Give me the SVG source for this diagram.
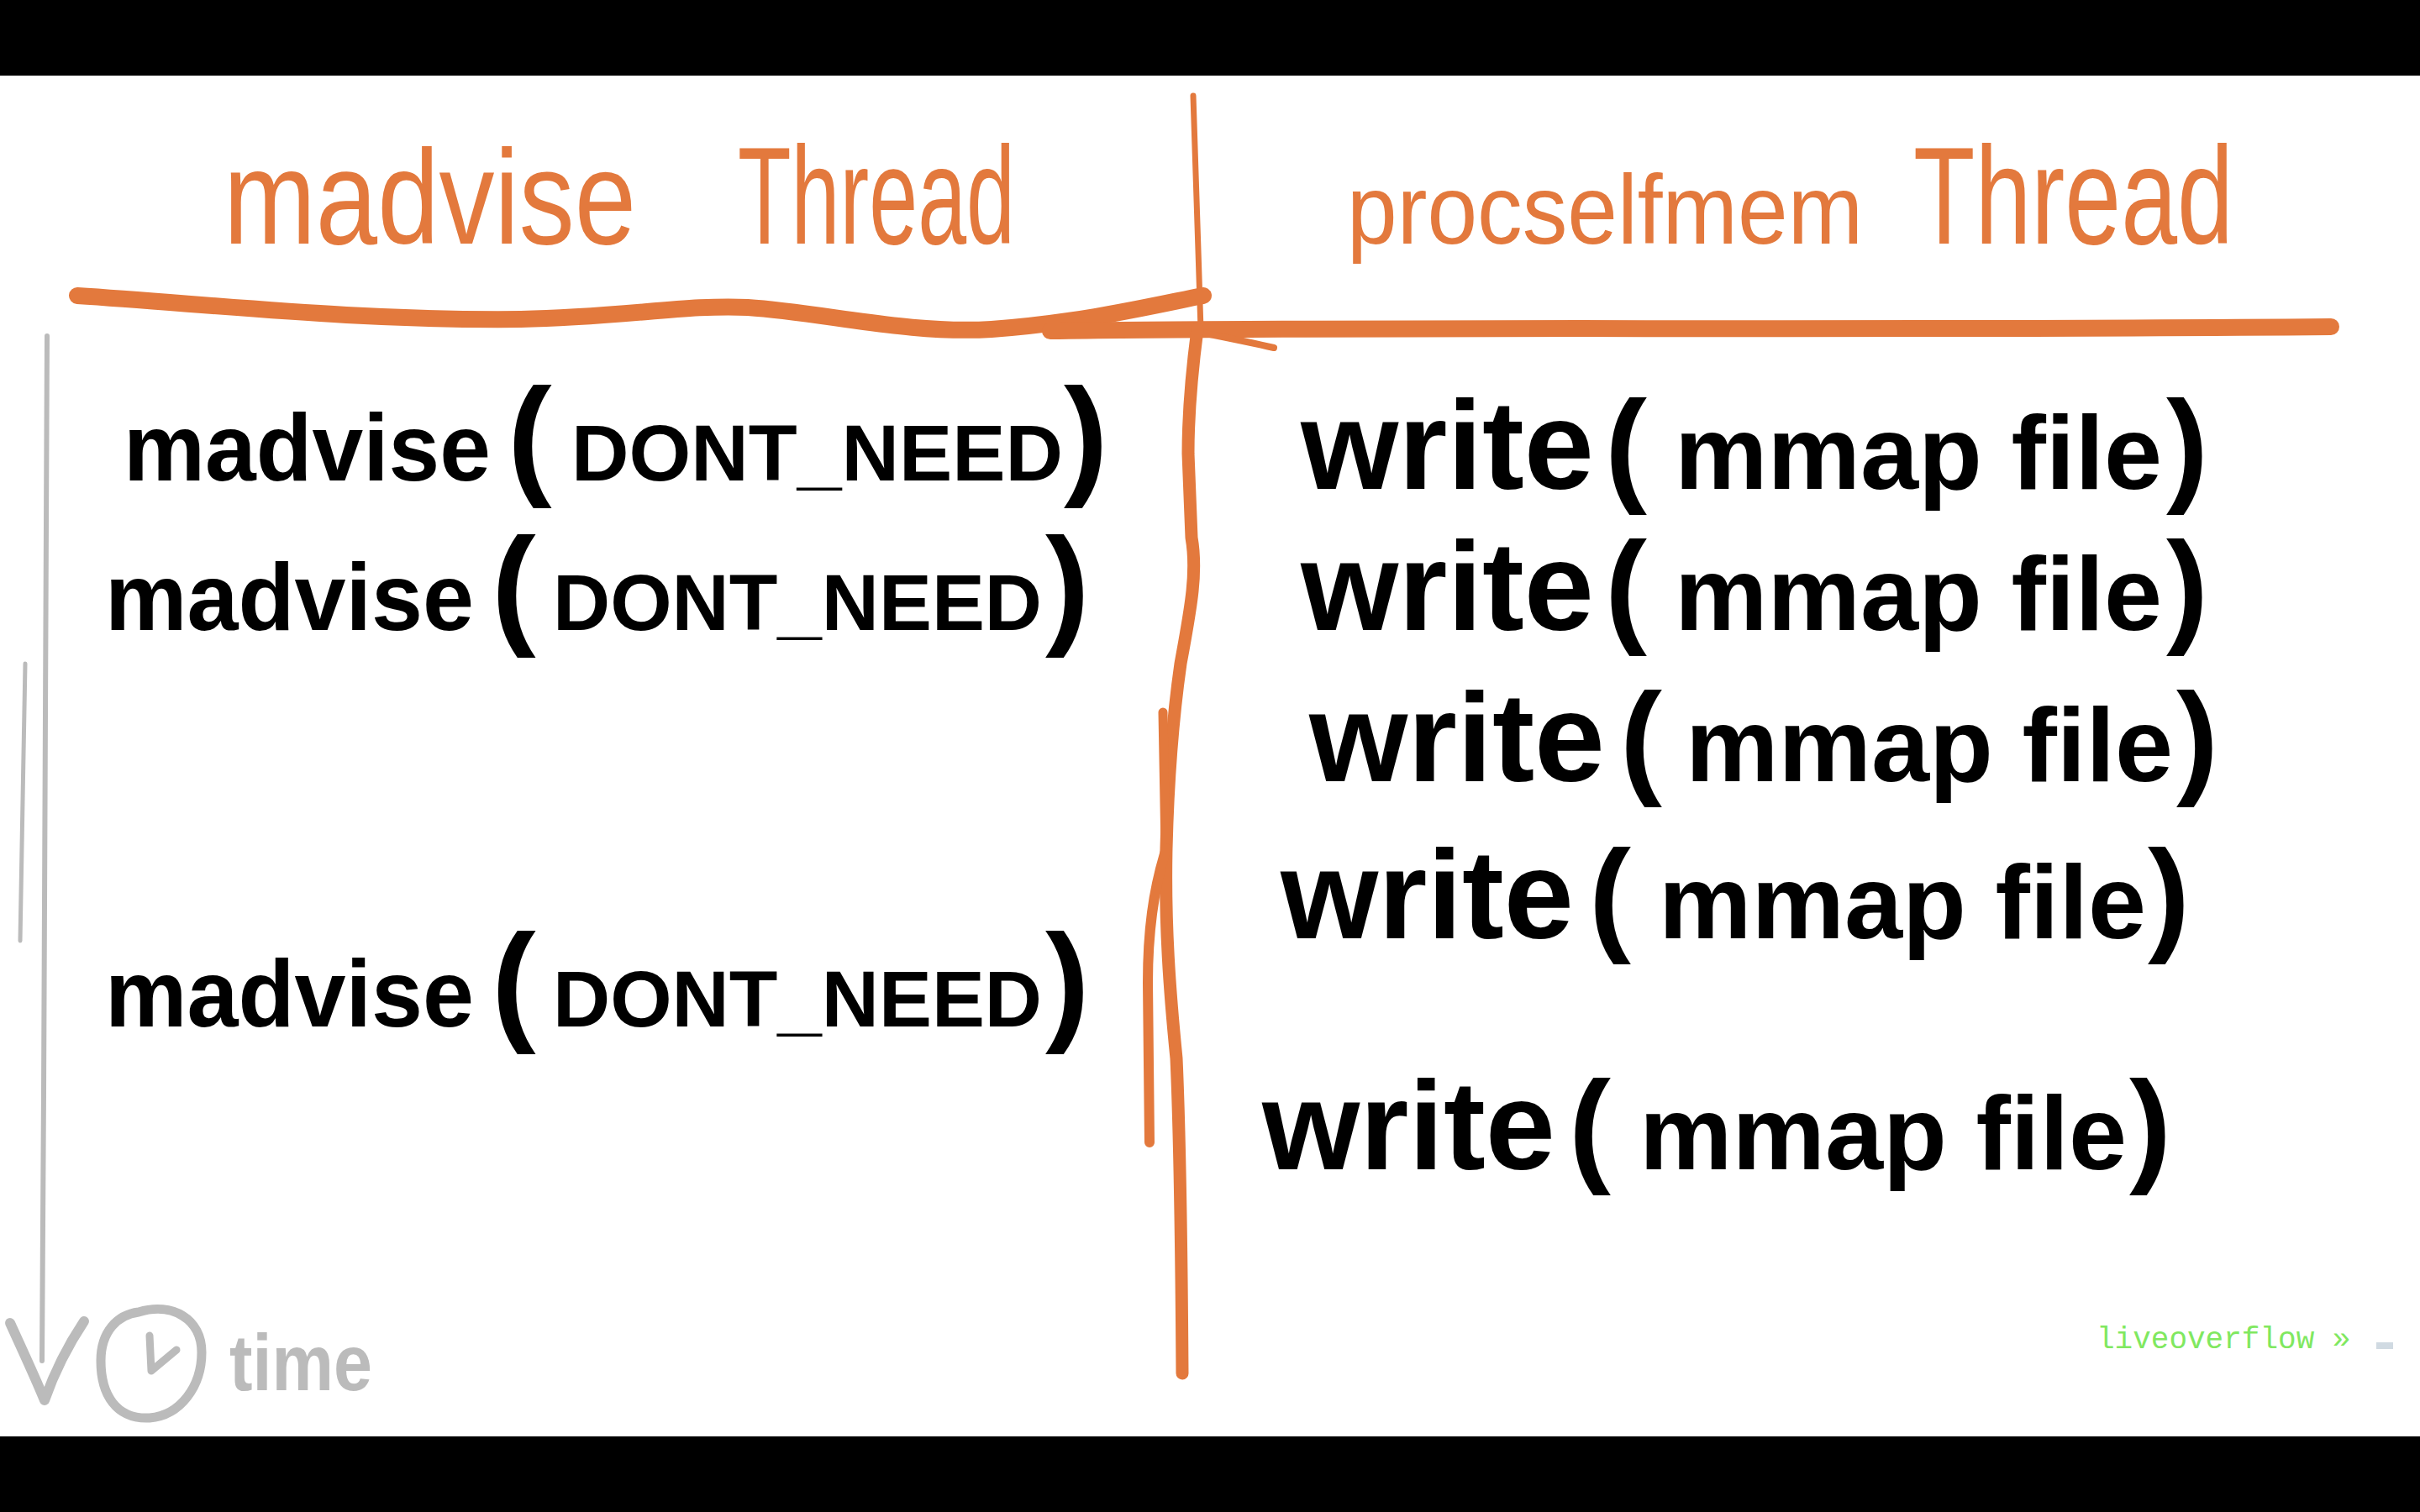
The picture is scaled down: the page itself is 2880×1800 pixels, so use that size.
<svg xmlns="http://www.w3.org/2000/svg" width="2880" height="1800" viewBox="0 0 2880 1800">
<style>
.hd{font-family:"Liberation Sans",sans-serif;font-weight:400;fill:#E3793D}
.hw{font-family:"Liberation Sans",sans-serif;font-weight:700;fill:#000}
.w{font-size:113px}
.c{font-size:94px}
.lp{font-size:158px}
.rw{font-size:150px}
.rc{font-size:124px}
.rp{font-size:150px}
.or{fill:none;stroke:#E3793D;stroke-linecap:round;stroke-linejoin:round}
.gr{fill:none;stroke:#BBBBBB;stroke-linecap:round;stroke-linejoin:round}
</style>
<rect x="0" y="0" width="2880" height="1800" fill="#fff"/>
<rect x="0" y="0" width="2880" height="90" fill="#000"/>
<rect x="0" y="1710" width="2880" height="90" fill="#000"/>

<g id="lanes">
<path class="or" stroke-width="7" d="M1420,114 C1423,200 1426,300 1429,392"/>
<path class="or" stroke-width="20" d="M92,352 C250,362 420,382 620,380 C740,378 820,362 890,366 C980,372 1080,398 1180,392 C1290,384 1380,362 1432,352"/>
<path class="or" stroke-width="20" d="M1250,394 C1600,388 2200,394 2774,389"/>
<path class="or" stroke-width="8" d="M1430,396 C1460,402 1490,408 1516,414"/>
<path class="or" stroke-width="15" d="M1425,392 C1420,430 1414,480 1414,540 L1418,640 C1425,680 1418,720 1405,790 C1395,860 1390,930 1388,1010 C1386,1100 1392,1180 1400,1260 C1404,1350 1406,1480 1407,1635"/>
<path class="or" stroke-width="11" d="M1384,848 C1385,900 1386,960 1387,1010"/>
<path class="or" stroke-width="12" d="M1388,1010 C1372,1060 1366,1110 1366,1170 L1368,1360"/>
</g>

<g id="header-madvise"><text class="hd" y="290"><tspan x="266" font-size="160" textLength="491" lengthAdjust="spacingAndGlyphs">madvise</tspan><tspan x="878" font-size="165" textLength="330" lengthAdjust="spacingAndGlyphs">Thread</tspan></text></g>
<g id="header-procselfmem"><text class="hd" y="290"><tspan x="1603" font-size="116" textLength="614" lengthAdjust="spacingAndGlyphs">procselfmem</tspan><tspan x="2277" font-size="165" textLength="381" lengthAdjust="spacingAndGlyphs">Thread</tspan></text></g>

<g id="madvise-1"><text class="hw" y="572"><tspan class="w" x="147" textLength="437" lengthAdjust="spacingAndGlyphs">madvise</tspan><tspan class="lp" x="604">(</tspan><tspan class="c" x="680" textLength="585" lengthAdjust="spacingAndGlyphs">DONT_NEED</tspan><tspan class="lp" x="1266">)</tspan></text></g>
<g id="madvise-2"><text class="hw" y="750"><tspan class="w" x="125" textLength="439" lengthAdjust="spacingAndGlyphs">madvise</tspan><tspan class="lp" x="585">(</tspan><tspan class="c" x="658" textLength="582" lengthAdjust="spacingAndGlyphs">DONT_NEED</tspan><tspan class="lp" x="1244">)</tspan></text></g>
<g id="madvise-3"><text class="hw" y="1222"><tspan class="w" x="125" textLength="439" lengthAdjust="spacingAndGlyphs">madvise</tspan><tspan class="lp" x="585">(</tspan><tspan class="c" x="658" textLength="582" lengthAdjust="spacingAndGlyphs">DONT_NEED</tspan><tspan class="lp" x="1244">)</tspan></text></g>

<g id="write-1"><text class="hw" y="582"><tspan class="rw" x="1548" textLength="349" lengthAdjust="spacingAndGlyphs">write</tspan><tspan class="rp" x="1910">(</tspan><tspan class="rc" x="1993" textLength="580" lengthAdjust="spacingAndGlyphs">mmap file</tspan><tspan class="rp" x="2578">)</tspan></text></g>
<g id="write-2"><text class="hw" y="750"><tspan class="rw" x="1548" textLength="349" lengthAdjust="spacingAndGlyphs">write</tspan><tspan class="rp" x="1910">(</tspan><tspan class="rc" x="1993" textLength="580" lengthAdjust="spacingAndGlyphs">mmap file</tspan><tspan class="rp" x="2578">)</tspan></text></g>
<g id="write-3"><text class="hw" y="930"><tspan class="rw" x="1558" textLength="352" lengthAdjust="spacingAndGlyphs">write</tspan><tspan class="rp" x="1928">(</tspan><tspan class="rc" x="2006" textLength="580" lengthAdjust="spacingAndGlyphs">mmap file</tspan><tspan class="rp" x="2590">)</tspan></text></g>
<g id="write-4"><text class="hw" y="1117"><tspan class="rw" x="1524" textLength="349" lengthAdjust="spacingAndGlyphs">write</tspan><tspan class="rp" x="1891">(</tspan><tspan class="rc" x="1974" textLength="580" lengthAdjust="spacingAndGlyphs">mmap file</tspan><tspan class="rp" x="2556">)</tspan></text></g>
<g id="write-5"><text class="hw" y="1392"><tspan class="rw" x="1502" textLength="349" lengthAdjust="spacingAndGlyphs">write</tspan><tspan class="rp" x="1867">(</tspan><tspan class="rc" x="1951" textLength="580" lengthAdjust="spacingAndGlyphs">mmap file</tspan><tspan class="rp" x="2534">)</tspan></text></g>

<g id="time-axis">
<path class="gr" stroke-width="6" d="M56,400 C55,700 53,1000 52,1300 L50,1620"/>
<path class="gr" stroke-width="5" d="M30,790 C28,900 26,1000 24,1120"/>
<path class="gr" stroke-width="12" d="M12,1575 C28,1610 42,1640 53,1667 C66,1630 82,1600 100,1573"/>
<path class="gr" stroke-width="11" d="M165,1562 C205,1550 240,1570 240,1610 C240,1650 215,1685 178,1688 C138,1690 120,1660 120,1620 C120,1585 140,1565 165,1562 Z"/>
<path class="gr" stroke-width="9" d="M178,1590 L180,1632 L210,1607"/>
<text x="273" y="1655" style="font-family:'Liberation Sans',sans-serif;font-size:95px;font-weight:700;fill:#BBBBBB" textLength="170" lengthAdjust="spacingAndGlyphs">time</text>
</g>

<g id="watermark">
<text x="2495" y="1605" style="font-family:'Liberation Mono',monospace;font-size:36px;fill:#80E860">liveoverflow »</text>
<rect x="2828" y="1598" width="20" height="8" fill="#D0DAE2"/>
</g>
</svg>
